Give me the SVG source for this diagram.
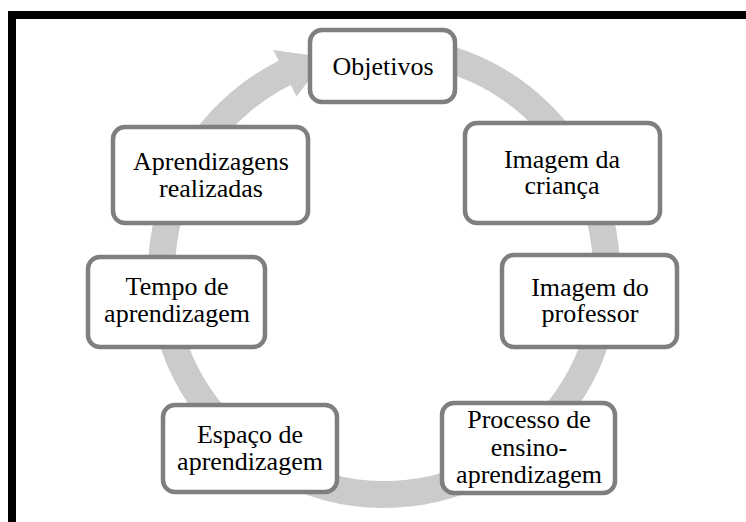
<svg xmlns="http://www.w3.org/2000/svg" width="746" height="522" viewBox="0 0 746 522">
<style>
.box{fill:#ffffff;stroke:#7f7f7f;stroke-width:4.5}
.t{font-family:"Liberation Serif","Times New Roman",serif;font-size:26px;fill:#000000;text-anchor:middle}
.ring{fill:#cbcbcb}
</style>
<rect x="0" y="0" width="746" height="522" fill="#ffffff"/>
<rect x="12" y="15" width="760" height="540" fill="none" stroke="#000000" stroke-width="8"/>
<g id="connectors">
<path class="ring" d="M 384 36 A 236 236 0 1 1 278.7 60.8 L 273.3 50.1 L 326.5 57.6 L 296.5 96.6 L 290.7 85 A 209 209 0 1 0 384 63 Z"/>
</g>
<g id="n-objetivos">
<rect class="box" x="310" y="30" width="145" height="72" rx="12"/>
<text class="t" x="383" y="75">Objetivos</text>
</g>
<g id="n-crianca">
<rect class="box" x="465" y="123" width="195" height="100" rx="12"/>
<text class="t" x="562" y="168">Imagem da</text>
<text class="t" x="562" y="194">criança</text>
</g>
<g id="n-professor">
<rect class="box" x="502" y="255" width="175" height="92" rx="12"/>
<text class="t" x="590" y="296">Imagem do</text>
<text class="t" x="590" y="322">professor</text>
</g>
<g id="n-processo">
<rect class="box" x="442" y="403" width="173" height="90" rx="12"/>
<text class="t" x="529" y="428">Processo de</text>
<text class="t" x="529" y="456">ensino-</text>
<text class="t" x="529" y="483">aprendizagem</text>
</g>
<g id="n-espaco">
<rect class="box" x="163" y="405" width="174" height="87" rx="12"/>
<text class="t" x="250" y="443">Espaço de</text>
<text class="t" x="250" y="470">aprendizagem</text>
</g>
<g id="n-tempo">
<rect class="box" x="88" y="257" width="177" height="90" rx="12"/>
<text class="t" x="177" y="295">Tempo de</text>
<text class="t" x="177" y="322">aprendizagem</text>
</g>
<g id="n-aprendizagens">
<rect class="box" x="113" y="127" width="195" height="96" rx="12"/>
<text class="t" x="211" y="170">Aprendizagens</text>
<text class="t" x="211" y="197">realizadas</text>
</g>
</svg>
